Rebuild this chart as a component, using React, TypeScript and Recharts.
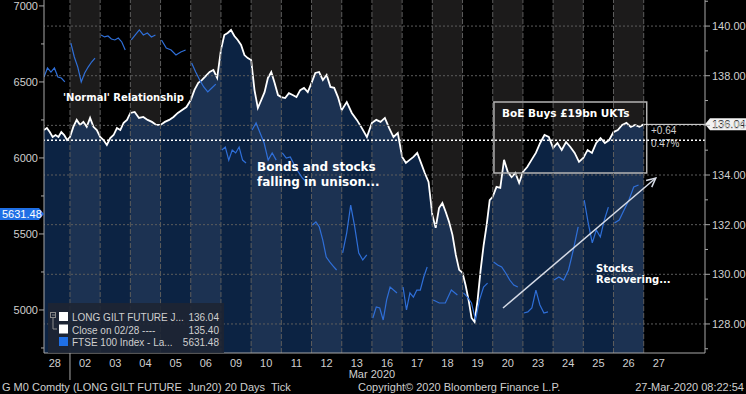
import React from "react";
import {
  ComposedChart,
  Area,
  Line,
  XAxis,
  YAxis,
  ReferenceArea,
  ReferenceLine,
  ReferenceDot,
} from "recharts";

// x axis: one unit per trading day, "28" = day 0 (only partly shown)
const DAY_LABELS = ["28", "02", "03", "04", "05", "06", "09", "10", "11", "12", "13", "16", "17", "18", "19", "20", "23", "24", "25", "26", "27"];
const MONTH_LABEL = "Mar 2020";
const MONTH_START = 1;
const MONTH_MID = 11;
const X_MIN = 0.14;
const X_MAX = 22.03;

const GILT_DOMAIN = [126.83, 141.05];
const FTSE_DOMAIN = [4717, 7039];
const GILT_TICKS = [127, 128, 129, 130, 131, 132, 133, 134, 135, 136, 137, 138, 139, 140, 141];
const GILT_GRID = [128, 130, 132, 134, 136, 138, 140];
const FTSE_TICKS = [4750, 5000, 5250, 5500, 5750, 6000, 6250, 6500, 6750, 7000];

// LONG GILT FUTURE Jun20, intraday samples per day
const GILT_BY_DAY: number[][] = [
  [135.81, 135.89, 135.73, 135.53, 135.61, 135.53, 135.73, 135.61, 135.41],
  [135.53, 135.94, 136.22, 136.02, 136.14, 135.94, 136.3, 135.94, 135.81],
  [135.53, 135.41, 135.21, 135.49, 135.61, 135.89, 135.81, 136.1, 136.22],
  [136.5, 136.54, 136.3, 136.34, 136.22, 136.14, 136.02],
  [136.02, 136.14, 136.22, 136.34, 136.5, 136.62, 136.74],
  [137.02, 137.43, 137.71, 137.83, 137.99, 138.15, 138.23, 137.91],
  [139.04, 139.64, 139.72, 139.84, 139.6, 139.44, 139.24, 138.83, 138.71],
  [138.63, 137.42, 136.7, 137.02, 137.34, 137.91, 138.15, 137.71, 137.22],
  [137.14, 137.1, 137.3, 137.22, 137.14, 137.42, 137.51, 137.34],
  [137.71, 138.11, 138.15, 137.83, 138.03, 137.55, 137.51, 137.14],
  [136.62, 136.94, 136.5, 136.22, 135.89, 135.53],
  [136.1, 136.22, 136.14, 136.3, 135.89, 135.53, 135.69],
  [134.73, 134.49, 134.61, 134.73, 134.89, 134.49, 134.08, 133.72],
  [132.39, 131.87, 132.67, 132.87, 132.51, 132.11, 131.59, 130.78, 130.18],
  [130.06, 129.57, 128.97, 128.24, 128.08, 128.97, 130.18, 131.18, 131.99, 132.99],
  [133.12, 133.52, 133.48, 134.61, 134.12, 133.92, 134.08, 133.68],
  [134.12, 134.32, 134.61, 134.89, 135.29, 135.61, 135.53],
  [135.09, 135.29, 135.01, 135.33, 135.13, 134.89, 134.53],
  [134.69, 135.01, 134.89, 135.29, 135.49, 135.29, 135.41],
  [135.73, 135.81, 136.02, 136.1, 135.94, 136.02, 135.94],
];
const GILT_LAST = 136.04;
const GILT_CLOSE = 135.4;
const GILT_CHANGE = "+0.64";
const GILT_CHANGE_PCT = "0.47%";

// FTSE 100, intraday samples per day (gaps overnight)
const FTSE_BY_DAY: number[][] = [
  [6532, 6592, 6565, 6592, 6532, 6526, 6500],
  [6756, 6664, 6598, 6500, 6559, 6598, 6631, 6657],
  [6809, 6796, 6802, 6782, 6776, 6789, 6763, 6710],
  [6776, 6809, 6842, 6809, 6822, 6796, 6809],
  [6776, 6723, 6710, 6677, 6697, 6710],
  [6625, 6565, 6513, 6467, 6434, 6460, 6486],
  [6052, 6072, 5986, 6052, 6033, 6072, 5986, 5967],
  [6184, 6230, 6164, 6098, 5986, 6033, 5986],
  [6033, 5999, 6006, 5954, 5908, 5868, 5842],
  [5559, 5579, 5546, 5460, 5348, 5316, 5289, 5263],
  [5375, 5506, 5690, 5546, 5375, 5329, 5362],
  [4947, 5020, 5013, 4934, 5066, 5151, 5131, 5112],
  [5151, 5000, 5112, 5085, 5131, 5131, 5217, 5283],
  [5066, 5046, 5046, 5131, 5099],
  [5112, 5085, 5046, 4934, 5066, 5151, 5177],
  [5316, 5296, 5283, 5243, 5197, 5164, 5151],
  [4980, 4987, 5013, 5131, 5033, 4980, 4987],
  [5197, 5217, 5197, 5263, 5395, 5546],
  [5723, 5572, 5441, 5526, 5480, 5592, 5677],
  [5572, 5592, 5658, 5723, 5809, 5822],
];
const FTSE_LAST = 5631.48;

// annotations (data space)
const BOE_BOX = { x1: 15.04, x2: 20.1, y1: 136.94, y2: 134.08 };
const ARROW = [{ x: 15.34, y: 5013 }, { x: 20.4, y: 5868 }];

const LEGEND_ROWS = [
  { label: "LONG GILT FUTURE J...", value: "136.04", color: "#ffffff" },
  { label: "Close on 02/28 ----", value: "135.40", color: "#ffffff" },
  { label: "FTSE 100 Index - La...", value: "5631.48", color: "#1f6fe5" },
];

const FONT = "'Liberation Sans', Arial, sans-serif";
const BOLD = "'DejaVu Sans', Verdana, sans-serif";
const TXT = "#cfcfcf";
const AXIS = "#a8a8a8";
const FTSE_BLUE = "#2f6fd8";

const giltData: { x: number; v: number }[] = [];
GILT_BY_DAY.forEach((vals, d) => {
  const s = d === 0 ? X_MIN : 0;
  vals.forEach((v, k) => giltData.push({ x: d + s + ((1 - s) * k) / vals.length, v }));
});
giltData.push({ x: GILT_BY_DAY.length, v: GILT_LAST });

const ftseData: { x: number; v: number | null }[] = [];
FTSE_BY_DAY.forEach((vals, d) => {
  const s = d === 0 ? X_MIN : d + 0.03;
  const e = d + 0.83;
  vals.forEach((v, k) => ftseData.push({ x: s + ((e - s) * k) / (vals.length - 1), v }));
  ftseData.push({ x: d + 0.92, v: null });
});

const DAY_BOUNDS = GILT_BY_DAY.map((_, d) => d + 1);

function DayTick(props: any) {
  const { x, y, payload } = props;
  const v = payload.value;
  if (v === MONTH_START) return <line x1={x} x2={x} y1={y} y2={y + 27} stroke={AXIS} />;
  if (v === MONTH_MID)
    return (
      <text x={x} y={y + 25} textAnchor="middle" fill={TXT} fontSize={11} fontFamily={FONT}>
        {MONTH_LABEL}
      </text>
    );
  return (
    <text x={x} y={y + 14} textAnchor="middle" fill={TXT} fontSize={11} fontFamily={FONT}>
      {DAY_LABELS[Math.floor(v)]}
    </text>
  );
}

function LeftTick(props: any) {
  const { x, y, payload } = props;
  const major = payload.value % 500 === 0;
  return (
    <g>
      <line x1={x - (major ? 5 : 3)} x2={x} y1={y} y2={y} stroke={AXIS} />
      {major && (
        <text x={x - 6} y={y + 4} textAnchor="end" fill={TXT} fontSize={11} fontFamily={FONT}>
          {payload.value}
        </text>
      )}
    </g>
  );
}

function RightTick(props: any) {
  const { x, y, payload } = props;
  const major = payload.value % 2 === 0;
  return (
    <g>
      <line x1={x} x2={x + (major ? 5 : 3)} y1={y} y2={y} stroke={AXIS} />
      {major && (
        <text x={x + 7} y={y + 4} fill={TXT} fontSize={11} fontFamily={FONT}>
          {payload.value.toFixed(2)}
        </text>
      )}
    </g>
  );
}

function GiltTag(props: any) {
  const { cx, cy } = props;
  return (
    <g>
      <polygon points={`${cx},${cy} ${cx + 5},${cy - 6} ${cx + 41},${cy - 6} ${cx + 41},${cy + 6} ${cx + 5},${cy + 6}`} fill="#f2f2f2" />
      <text x={cx + 7} y={cy + 4} fill="#222" fontSize={11} fontFamily={FONT}>
        {GILT_LAST.toFixed(2)}
      </text>
    </g>
  );
}

function FtseTag(props: any) {
  const { cx, cy } = props;
  return (
    <g>
      <polygon points={`${cx},${cy} ${cx - 5},${cy - 6} ${cx - 44},${cy - 6} ${cx - 44},${cy + 6} ${cx - 5},${cy + 6}`} fill="#1f6fe5" />
      <text x={cx - 42} y={cy + 4} fill="#fff" fontSize={11} fontFamily={FONT}>
        {FTSE_LAST.toFixed(2)}
      </text>
    </g>
  );
}

function Arrow(props: any) {
  const { x1, y1, x2, y2 } = props;
  const a = Math.atan2(y2 - y1, x2 - x1);
  const h = 10;
  const p1 = [x2 - h * Math.cos(a - 0.45), y2 - h * Math.sin(a - 0.45)];
  const p2 = [x2 - h * Math.cos(a + 0.45), y2 - h * Math.sin(a + 0.45)];
  return (
    <g stroke="#d6dbe6" strokeWidth={1.5} fill="none">
      <line x1={x1} y1={y1} x2={x2} y2={y2} />
      <polyline points={`${p1[0]},${p1[1]} ${x2},${y2} ${p2[0]},${p2[1]}`} />
    </g>
  );
}

export default function App() {
  return (
    <div style={{ position: "fixed", left: 0, top: 0, width: 746, height: 394, background: "#000", overflow: "hidden" }}>
      <ComposedChart width={746} height={394} margin={{ top: 0, right: 0, bottom: 0, left: 0 }}>
        <XAxis
          dataKey="x"
          type="number"
          domain={[X_MIN, X_MAX]}
          allowDataOverflow
          ticks={[MONTH_START, MONTH_MID, ...DAY_LABELS.map((_, i) => i + 0.5)]}
          interval={0}
          tick={DayTick}
          tickLine={false}
          tickSize={0}
          tickMargin={0}
          height={41}
          stroke={AXIS}
        />
        <YAxis
          yAxisId="ftse"
          orientation="left"
          type="number"
          domain={FTSE_DOMAIN}
          allowDataOverflow
          ticks={FTSE_TICKS}
          interval={0}
          tick={LeftTick}
          tickLine={false}
          tickSize={0}
          tickMargin={0}
          width={44}
          stroke={AXIS}
        />
        <YAxis
          yAxisId="gilt"
          orientation="right"
          type="number"
          domain={GILT_DOMAIN}
          allowDataOverflow
          ticks={GILT_TICKS}
          interval={0}
          tick={RightTick}
          tickLine={false}
          tickSize={0}
          tickMargin={0}
          width={41}
          stroke={AXIS}
        />

        {DAY_BOUNDS.filter((d) => d % 2 === 1).map((d) => (
          <ReferenceArea key={`band${d}`} yAxisId="gilt" x1={d} x2={d + 1} fill="#1c1b1b" fillOpacity={1} stroke="none" />
        ))}
        {GILT_GRID.map((g) => (
          <ReferenceLine key={`h${g}`} yAxisId="gilt" y={g} stroke="#5c5c5c" strokeDasharray="2 2" />
        ))}
        {DAY_BOUNDS.map((d) => (
          <ReferenceLine key={`v${d}`} yAxisId="gilt" x={d} stroke="#5c5c5c" strokeDasharray="5 2" />
        ))}

        <Area
          yAxisId="gilt"
          data={giltData}
          dataKey="v"
          type="linear"
          stroke="#ffffff"
          strokeWidth={1.8}
          fill="#1c53a0"
          fillOpacity={0.42}
          dot={false}
          activeDot={false}
          isAnimationActive={false}
        />
        <Line
          yAxisId="ftse"
          data={ftseData}
          dataKey="v"
          type="linear"
          stroke={FTSE_BLUE}
          strokeWidth={1.2}
          dot={false}
          activeDot={false}
          connectNulls={false}
          isAnimationActive={false}
        />

        <ReferenceLine yAxisId="gilt" y={GILT_CLOSE} stroke="#ffffff" strokeWidth={1.5} strokeDasharray="2 2" />
        <ReferenceLine
          yAxisId="gilt"
          segment={[{ x: GILT_BY_DAY.length, y: GILT_LAST }, { x: X_MAX, y: GILT_LAST }]}
          stroke="#e8e8e8"
          ifOverflow="visible"
        />
        <ReferenceArea
          yAxisId="gilt"
          x1={BOE_BOX.x1}
          x2={BOE_BOX.x2}
          y1={BOE_BOX.y1}
          y2={BOE_BOX.y2}
          fill="none"
          stroke="#b4b4b4"
          strokeWidth={1.5}
          ifOverflow="visible"
        />
        <ReferenceLine yAxisId="ftse" segment={ARROW} shape={Arrow} ifOverflow="visible" />
        <ReferenceDot yAxisId="gilt" x={X_MAX} y={GILT_LAST} shape={GiltTag} ifOverflow="visible" />
        <ReferenceDot yAxisId="ftse" x={X_MIN} y={FTSE_LAST} shape={FtseTag} ifOverflow="visible" />
      </ComposedChart>

      <svg width={746} height={394} style={{ position: "absolute", left: 0, top: 0, pointerEvents: "none" }}>
        <g fill="#ffffff" fontFamily={BOLD} fontWeight="bold">
          <text x={63} y={101} fontSize={10}>'Normal' Relationship</text>
          <text x={257} y={171} fontSize={12}>Bonds and stocks</text>
          <text x={257} y={186} fontSize={12}>falling in unison...</text>
          <text x={502} y={117} fontSize={10.5}>BoE Buys £19bn UKTs</text>
          <text x={596} y={272} fontSize={10}>Stocks</text>
          <text x={596} y={283} fontSize={10}>Recovering...</text>
        </g>
        <g fill={TXT} fontFamily={FONT} fontSize={10}>
          <text x={651} y={134}>{GILT_CHANGE}</text>
          <text x={651} y={147}>{GILT_CHANGE_PCT}</text>
        </g>

        <rect x={48} y={303} width={176} height={50} fill="#1e2533" fillOpacity={0.9} />
        <g stroke="#8a8a8a" fill="none">
          <rect x={50.5} y={312.5} width={5} height={5} />
          <line x1={52} x2={55} y1={315} y2={315} />
          <polyline points="53,318 53,329 57,329" />
        </g>
        {LEGEND_ROWS.map((r, i) => (
          <g key={r.label}>
            <rect x={59} y={312 + i * 12.5} width={9} height={9} fill={r.color} />
            <text x={72} y={321 + i * 12.5} fill={TXT} fontSize={10} fontFamily={FONT}>
              {r.label}
            </text>
            <text x={219} y={321 + i * 12.5} fill={TXT} fontSize={10} fontFamily={FONT} textAnchor="end">
              {r.value}
            </text>
          </g>
        ))}

        <g fill={TXT} fontFamily={FONT} fontSize={11}>
          <text x={2} y={391} xmlSpace="preserve">G M0 Comdty (LONG GILT FUTURE  Jun20) 20 Days  Tick</text>
          <text x={358} y={391}>Copyright© 2020 Bloomberg Finance L.P.</text>
          <text x={744} y={391} textAnchor="end">27-Mar-2020 08:22:54</text>
        </g>
      </svg>
    </div>
  );
}
